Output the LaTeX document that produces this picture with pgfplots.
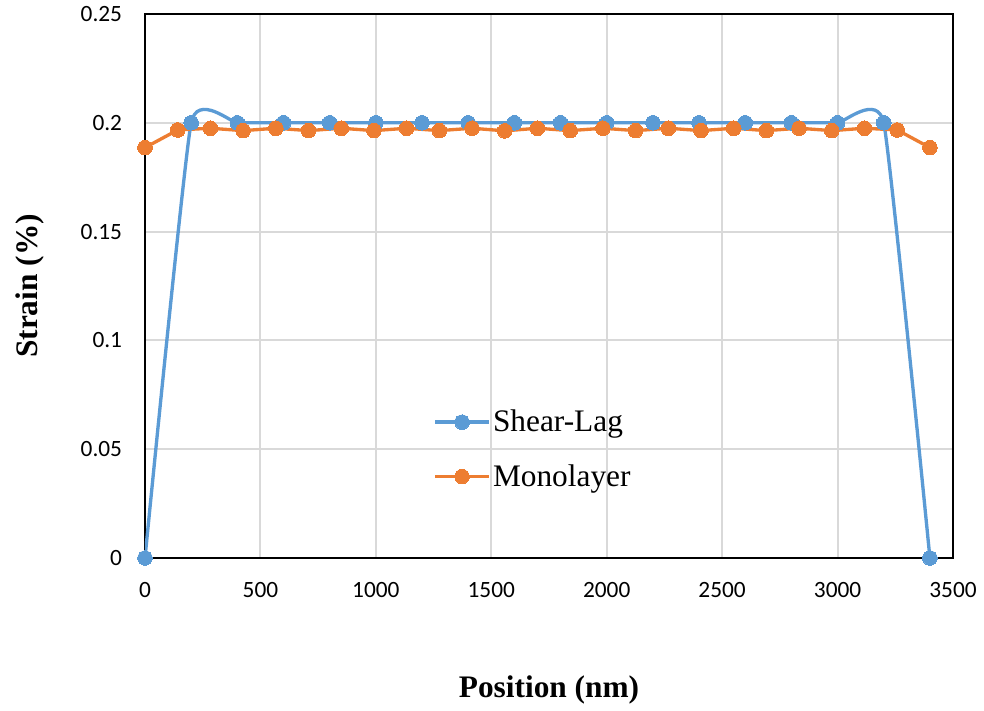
\documentclass[border=0pt]{standalone}
\usepackage{fontspec}
\setmainfont{Liberation Serif}
\newfontfamily\tickfont{Carlito}
\usepackage{pgfplots}
\pgfplotsset{compat=1.18}
\definecolor{slblue}{HTML}{5B9BD5}
\definecolor{mlorange}{HTML}{ED7D31}
\definecolor{gridgray}{HTML}{D9D9D9}
\begin{document}
\begin{tikzpicture}
\useasboundingbox (-108.75pt,-114pt) rectangle (629.25pt,418.5pt);
\begin{axis}[
  scale only axis,
  width=606pt, height=408pt,
  xmin=0, xmax=3500, ymin=0, ymax=0.25,
  xtick={0,500,...,3500},
  xticklabels={0,500,1000,1500,2000,2500,3000,3500},
  ytick={0,0.05,0.1,0.15,0.2,0.25},
  yticklabels={0,0.05,0.1,0.15,0.2,0.25},
  major tick length=0pt,
  axis line style={black, line width=1.2pt},
  grid=major,
  major grid style={gridgray, line width=1.4pt},
  xticklabel style={font=\tickfont\fontsize{17.5}{21}\selectfont, anchor=center, inner sep=0pt, yshift=-24pt},
  yticklabel style={font=\tickfont\fontsize{17.5}{21}\selectfont, anchor=east, inner sep=0pt, xshift=-17pt},
  xlabel={\textbf{Position (nm)}},
  ylabel={\textbf{Strain (\%)}},
  xlabel style={font=\fontsize{23.5}{28}\selectfont, at={(axis description cs:0.5,-0.2426)}, anchor=center},
  ylabel style={font=\fontsize{23.5}{28}\selectfont, at={(axis description cs:-0.1423,0.5)}, anchor=center, rotate=0},
  legend style={draw=none, fill=none, at={(rel axis cs:0.357,0.277)}, anchor=north west,
    font=\fontsize{23.5}{28}\selectfont, row sep=19pt, inner sep=0pt},
  legend cell align=left,
  legend image code/.code={
    \draw[mark repeat=2, mark phase=2] plot coordinates {(0pt,0pt) (20pt,0pt) (40pt,0pt)};
  },
]
\addplot[slblue, line width=2.5pt, smooth, tension=0.25, mark=*, mark size=5.5pt, mark options={solid, fill=slblue, draw=slblue, line width=0pt}]
coordinates {
(0,0) (200,0.2) (400,0.2) (600,0.2) (800,0.2) (1000,0.2) (1200,0.2) (1400,0.2) (1600,0.2)
(1800,0.2) (2000,0.2) (2200,0.2) (2400,0.2) (2600,0.2) (2800,0.2) (3000,0.2) (3200,0.2) (3400,0)
};
\addlegendentry{Shear-Lag}
\addplot[mlorange, line width=2.5pt, mark=*, mark size=5.5pt, mark options={solid, fill=mlorange, draw=mlorange, line width=0pt}]
coordinates {
(0,0.1886) (141.67,0.1967) (283.33,0.1975) (425,0.1964) (566.67,0.1975) (708.33,0.1964)
(850,0.1975) (991.67,0.1964) (1133.33,0.1975) (1275,0.1964) (1416.67,0.1975) (1558.33,0.1963)
(1700,0.1975) (1841.67,0.1964) (1983.33,0.1975) (2125,0.1964) (2266.67,0.1975) (2408.33,0.1964)
(2550,0.1975) (2691.67,0.1964) (2833.33,0.1975) (2975,0.1964) (3116.67,0.1975) (3258.33,0.1967)
(3400,0.1886)
};
\addlegendentry{Monolayer}
\end{axis}
\end{tikzpicture}
\end{document}
